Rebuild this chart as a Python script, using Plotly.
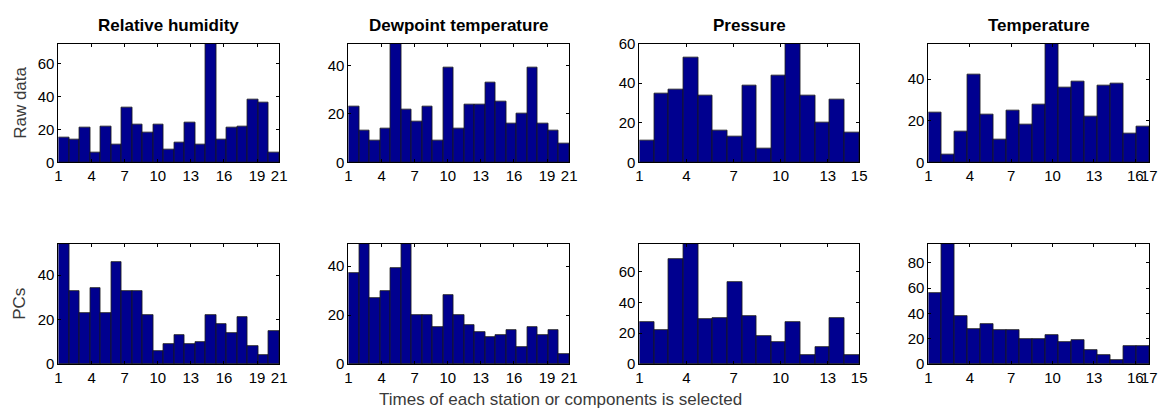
import plotly.graph_objects as go

# ---------------- data ----------------
titles = ["Relative humidity", "Dewpoint temperature", "Pressure", "Temperature"]
row_labels = ["Raw data", "PCs"]
xlabel = "Times of each station or components is selected"

raw_rh = [15, 14, 21, 6, 22, 11, 33, 23, 18, 23, 8, 12, 24, 11, 72, 14, 21, 22, 38, 36, 6]
raw_dew = [23, 13, 9, 14, 49, 22, 17, 23, 9, 39, 14, 24, 24, 33, 25, 16, 20, 39, 16, 13, 8]
raw_pres = [11, 35, 37, 53, 34, 16, 13, 39, 7, 44, 60, 34, 20, 32, 15]
raw_temp = [24, 4, 15, 42, 23, 11, 25, 18, 28, 57, 36, 39, 22, 37, 38, 14, 17]

pc_rh = [54, 33, 23, 34, 23, 46, 33, 33, 22, 6, 9, 13, 9, 10, 22, 18, 14, 21, 8, 4, 15]
pc_dew = [37, 49, 27, 30, 39, 49, 20, 20, 15, 28, 20, 16, 13, 11, 12, 14, 7, 15, 12, 14, 4]
pc_pres = [27, 22, 68, 78, 29, 30, 53, 31, 18, 14, 27, 6, 11, 30, 6]
pc_temp = [56, 95, 38, 28, 32, 27, 27, 20, 20, 23, 17, 19, 11, 7, 3, 14, 14]

ticks_21 = [1, 4, 7, 10, 13, 16, 19, 21]
ticks_15 = [1, 4, 7, 10, 13, 15]
ticks_17 = [1, 4, 7, 10, 13, 16, 17]
y_ticks = [0, 20, 40, 60, 80]

panels = [
    (raw_rh, ticks_21), (raw_dew, ticks_21), (raw_pres, ticks_15), (raw_temp, ticks_17),
    (pc_rh, ticks_21), (pc_dew, ticks_21), (pc_pres, ticks_15), (pc_temp, ticks_17),
]

# ---------------- layout geometry (pixels) ----------------
W, H = 1173, 418
col_px = [(55, 278), (348, 571), (642, 864), (934, 1157)]
row_px = [(36, 160), (245, 370)]

FONT = "Liberation Sans, Arial, Helvetica, sans-serif"
BAR = "rgb(0,0,143)"

fig = go.Figure()
layout = dict(
    width=W, height=H,
    margin=dict(l=0, r=0, t=0, b=0),
    paper_bgcolor="white", plot_bgcolor="white",
    showlegend=False,
    font=dict(family=FONT, size=15, color="black"),
    bargap=0,
)

for k, (vals, xt) in enumerate(panels):
    r, c = divmod(k, 4)
    n = len(vals)
    w = (n - 1) / n
    xs = [1 + w * (i + 0.5) for i in range(n)]
    ax = "" if k == 0 else str(k + 1)
    fig.add_trace(go.Bar(
        x=xs, y=vals, width=[w] * n,
        marker=dict(color=BAR, line=dict(color="#1a1a1a", width=0.8)),
        xaxis="x" + ax, yaxis="y" + ax, hoverinfo="x+y",
    ))
    x0, x1 = col_px[c]
    y0, y1 = row_px[r]
    common = dict(
        showline=True, linecolor="black", linewidth=1, mirror="ticks",
        ticks="inside", ticklen=3, tickcolor="black", tickwidth=1,
        showgrid=False, zeroline=False, tickangle=0,
        tickfont=dict(family=FONT, size=15, color="black"),
    )
    layout["xaxis" + ax] = dict(
        domain=[x0 / W, x1 / W], anchor="y" + ax,
        range=[1, n], tickmode="array", tickvals=xt, ticktext=[str(t) for t in xt],
        **common,
    )
    layout["yaxis" + ax] = dict(
        domain=[1 - y1 / H, 1 - y0 / H], anchor="x" + ax,
        range=[0, max(vals)], tickmode="array", tickvals=y_ticks,
        ticktext=[str(t) for t in y_ticks],
        **common,
    )

annotations = []
for c, t in enumerate(titles):
    x0, x1 = col_px[c]
    annotations.append(dict(
        text="<b>" + t + "</b>", x=(x0 + x1) / 2 / W, y=1 - 17 / H,
        xref="paper", yref="paper", xanchor="center", yanchor="middle",
        showarrow=False, font=dict(family=FONT, size=17, color="black"),
    ))
for r, t in enumerate(row_labels):
    y0, y1 = row_px[r]
    annotations.append(dict(
        text=t, x=16 / W, y=1 - (y0 + y1) / 2 / H,
        xref="paper", yref="paper", xanchor="center", yanchor="middle",
        textangle=-90, showarrow=False,
        font=dict(family=FONT, size=17, color="#3a3a3a"),
    ))
annotations.append(dict(
    text=xlabel, x=562 / W, y=1 - 407 / H,
    xref="paper", yref="paper", xanchor="center", yanchor="middle",
    showarrow=False, font=dict(family=FONT, size=17, color="#3a3a3a"),
))
layout["annotations"] = annotations

fig.update_layout(**layout)
fig.write_html("out.html")
